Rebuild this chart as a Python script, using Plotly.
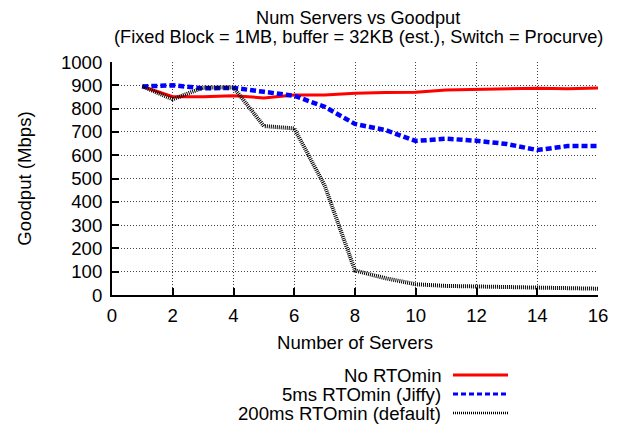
import plotly.graph_objects as go

servers = list(range(1, 17))
no_rtomin = [895, 851, 851, 855, 846, 858, 858, 866, 869, 870, 880, 883, 883, 887, 885, 888]
rtomin_5ms = [895, 900, 887, 889, 872, 855, 808, 734, 708, 661, 671, 662, 648, 622, 639, 639]
rtomin_200ms = [895, 840, 890, 891, 725, 715, 470, 105, 72, 46, 39, 36, 36, 33, 29, 27]
series_names = ["No RTOmin", "5ms RTOmin (Jiffy)", "200ms RTOmin (default)"]
x_ticks = list(range(0, 17, 2))
y_ticks = list(range(0, 1001, 100))
title_lines = ["Num Servers vs Goodput",
               "(Fixed Block = 1MB, buffer = 32KB (est.), Switch = Procurve)"]

FONT = "Liberation Sans, Arial, Helvetica, sans-serif"
FS = 18.6
FS_TITLE = 18.2
styles = [dict(color="#ff0000", width=3, dash="solid"),
          dict(color="#0000ff", width=4.5, dash="6px,3px"),
          dict(color="#000000", width=4, dash="1px,1px")]
legend_styles = [dict(color="#ff0000", width=3, dash="solid"),
                 dict(color="#0000ff", width=3, dash="5px,3px"),
                 dict(color="#000000", width=2.5, dash="1px,1px")]

# page is drawn with an 8px body margin; figure pixel = page pixel - 8
W, H = 618, 418
L, R, T, B = 104, 28, 54, 131
PW, PH = W - L - R, H - T - B


def px_to_paper_x(px_page):
    return (px_page - 8 - L) / PW


def px_to_paper_y(py_page):
    return (H - B - (py_page - 8)) / PH


fig = go.Figure()
for name, ys, st in zip(series_names, [no_rtomin, rtomin_5ms, rtomin_200ms], styles):
    fig.add_trace(go.Scatter(x=servers, y=ys, mode="lines", name=name,
                             line=st, showlegend=False))

# manual legend: text right-aligned, sample line to its right
leg_y = [375, 394, 413]
for name, st, py in zip(series_names, legend_styles, leg_y):
    yp = px_to_paper_y(py)
    fig.add_annotation(xref="paper", yref="paper", x=px_to_paper_x(443), y=yp,
                       text=name, showarrow=False, xanchor="right", yanchor="middle",
                       font=dict(family=FONT, size=FS, color="black"))
    fig.add_shape(type="line", xref="paper", yref="paper",
                  x0=px_to_paper_x(453), x1=px_to_paper_x(508), y0=yp, y1=yp,
                  line=dict(color=st["color"], width=st["width"], dash=st["dash"]))

# title (two lines)
for txt, py in zip(title_lines, [17.5, 37]):
    fig.add_annotation(xref="paper", yref="paper", x=px_to_paper_x(358), y=px_to_paper_y(py),
                       text=txt, showarrow=False, xanchor="center", yanchor="middle",
                       font=dict(family=FONT, size=FS_TITLE, color="black"))

fig.update_layout(
    width=W, height=H,
    margin=dict(l=L, r=R, t=T, b=B),
    paper_bgcolor="white", plot_bgcolor="white",
    font=dict(family=FONT, size=FS, color="black"),
)
fig.update_xaxes(range=[0, 16], tickvals=x_ticks, showgrid=True, gridcolor="#444444",
                 griddash="1px,2px", gridwidth=1, showline=True, linecolor="black", linewidth=2,
                 ticks="inside", ticklen=7, tickcolor="black", tickwidth=1.5, zeroline=False,
                 ticklabelstandoff=3,
                 title=dict(text="Number of Servers", font=dict(family=FONT, size=FS), standoff=11))
fig.update_yaxes(range=[0, 1000], tickvals=y_ticks, showgrid=True, gridcolor="#444444",
                 griddash="1px,2px", gridwidth=1, showline=True, linecolor="black", linewidth=2,
                 ticks="inside", ticklen=7, tickcolor="black", tickwidth=1.5, zeroline=False,
                 ticklabelstandoff=4,
                 title=dict(text="Goodput (Mbps)", font=dict(family=FONT, size=FS), standoff=24))

fig.write_html("out.html")
